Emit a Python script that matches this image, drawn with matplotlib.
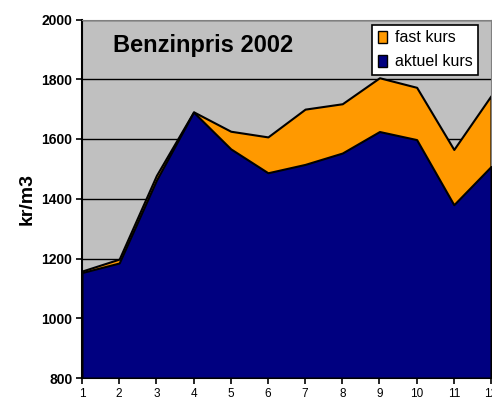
import matplotlib
matplotlib.use("Agg")
import matplotlib.pyplot as plt
from matplotlib.patches import Patch

plt.rcParams['font.family'] = ['Liberation Sans', 'DejaVu Sans']

months = list(range(1, 13))
month_labels = [str(m) for m in months]
fast_kurs = [1158, 1198, 1478, 1691, 1626, 1607, 1700, 1718, 1805, 1773, 1565, 1745]
aktuel_kurs = [1153, 1185, 1462, 1690, 1567, 1487, 1515, 1553, 1625, 1598, 1380, 1508]
y_ticks = [800, 1000, 1200, 1400, 1600, 1800, 2000]

fig = plt.figure(figsize=(4.92, 4.01), dpi=100)
ax = fig.add_axes([82/492, 23/401, 409/492, 358.5/401])
ax.set_facecolor('#C0C0C0')

ax.set_ylim(800, 2000)
ax.set_xlim(1, 12)
for y in y_ticks[1:]:
    ax.axhline(y, color='black', lw=1.0, zorder=1)

ax.fill_between(months, 800, fast_kurs, facecolor='#FF9900', edgecolor='black', lw=1.5, zorder=2)
ax.fill_between(months, 800, aktuel_kurs, facecolor='#000080', edgecolor='black', lw=1.5, zorder=3)

ax.set_yticks(y_ticks)
ax.set_yticklabels([str(v) for v in y_ticks], fontsize=10, fontweight='bold')
ax.set_xticks(months)
ax.set_xticklabels(month_labels, fontsize=8.5)
ax.tick_params(axis='both', direction='out', length=4, width=1.2, color='black')
ax.tick_params(axis='x', pad=3)
ax.tick_params(axis='y', pad=3)

ax.spines['left'].set_linewidth(1.5)
ax.spines['bottom'].set_linewidth(1.5)
ax.spines['top'].set_color('#808080')
ax.spines['right'].set_color('#808080')

ax.set_ylabel('kr/m3', fontsize=14, fontweight='bold', labelpad=4)

ax.text(0.296, 0.928, 'Benzinpris 2002', transform=ax.transAxes, fontsize=17,
        fontweight='bold', ha='center', va='center', zorder=5)

handles = [Patch(facecolor='#FF9900', edgecolor='black', label='fast kurs'),
           Patch(facecolor='#000080', edgecolor='black', label='aktuel kurs')]
leg = ax.legend(handles=handles, loc='upper right', bbox_to_anchor=(0.968, 0.985),
                fontsize=11.5, frameon=True, fancybox=False, framealpha=1,
                edgecolor='black', handlelength=0.55, handleheight=0.8,
                handletextpad=0.5, borderpad=0.35, labelspacing=0.55,
                borderaxespad=0)
leg.get_frame().set_linewidth(1.2)
leg.set_zorder(6)

fig.savefig('out.png', dpi=100)
